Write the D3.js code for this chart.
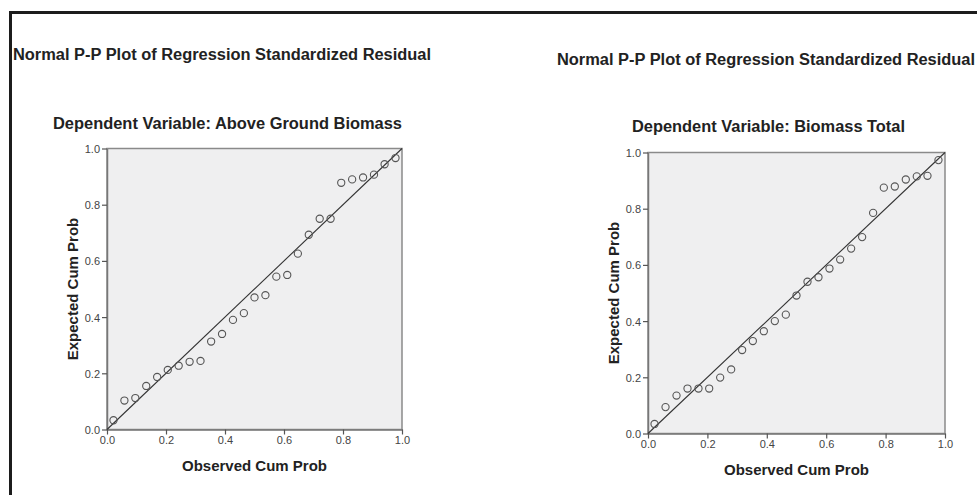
<!DOCTYPE html>
<html>
<head>
<meta charset="utf-8">
<script src="https://cdn.jsdelivr.net/npm/d3@7"></script>
<style>
  body { margin: 0; background: #fff; }
  svg text { font-family: "Liberation Sans", Arial, sans-serif; }
</style>
</head>
<body>
<div id="chart"></div>
<script>
// observed cumulative probabilities (same 27 cases in both panels)
const observedCumProb = [0.022, 0.059, 0.096, 0.133, 0.170, 0.206, 0.243, 0.280, 0.317,
  0.353, 0.390, 0.427, 0.464, 0.500, 0.537, 0.574, 0.611, 0.647, 0.684, 0.721, 0.758,
  0.794, 0.831, 0.868, 0.905, 0.941, 0.978];

// expected cumulative probabilities
const expectedAboveGround = [0.033, 0.103, 0.112, 0.155, 0.187, 0.212, 0.227, 0.241, 0.244,
  0.313, 0.340, 0.390, 0.414, 0.470, 0.478, 0.544, 0.550, 0.626, 0.693, 0.750, 0.750,
  0.878, 0.890, 0.897, 0.907, 0.944, 0.966];

const expectedTotal = [0.034, 0.094, 0.135, 0.160, 0.160, 0.160, 0.199, 0.228, 0.297,
  0.329, 0.364, 0.400, 0.423, 0.491, 0.540, 0.556, 0.587, 0.619, 0.658, 0.699, 0.785,
  0.875, 0.879, 0.904, 0.915, 0.917, 0.973];

const tickValues = [0, 0.2, 0.4, 0.6, 0.8, 1.0];
const mainTitle = "Normal P-P Plot of Regression Standardized Residual";
const subTitles = ["Dependent Variable: Above Ground Biomass", "Dependent Variable: Biomass Total"];
const xTitle = "Observed Cum Prob";
const yTitle = "Expected Cum Prob";

const svg = d3.select("#chart")
  .append("svg")
  .attr("width", 977)
  .attr("height", 495);

// outer frame (only left and top edges are in the picture)
svg.append("path")
  .attr("d", "M10.5,495 L10.5,12.5 L977,12.5")
  .attr("fill", "none")
  .attr("stroke", "#1c1c1c")
  .attr("stroke-width", 3);

class PPPlot {
  constructor(_config, _obs, _exp) {
    this.config = _config;
    this.obs = _obs;
    this.exp = _exp;
    this.initVis();
  }

  initVis() {
    let vis = this;
    const c = vis.config;

    vis.xScale = d3.scaleLinear().domain([0, 1]).range([c.left, c.right]);
    vis.yScale = d3.scaleLinear().domain([0, 1]).range([c.bottom, c.top]);

    vis.g = svg.append("g");

    // titles
    vis.g.append("text")
      .attr("x", c.titleX)
      .attr("y", c.titleY)
      .attr("font-size", 16)
      .attr("font-weight", "bold")
      .attr("fill", "#222")
      .attr("textLength", 418)
      .attr("lengthAdjust", "spacingAndGlyphs")
      .text(mainTitle);

    vis.g.append("text")
      .attr("x", c.subX)
      .attr("y", c.subY)
      .attr("font-size", 16)
      .attr("font-weight", "bold")
      .attr("fill", "#222")
      .attr("textLength", c.subLen)
      .attr("lengthAdjust", "spacingAndGlyphs")
      .text(c.subTitle);

    // plot area
    vis.g.append("rect")
      .attr("x", c.left)
      .attr("y", c.top)
      .attr("width", c.right - c.left)
      .attr("height", c.bottom - c.top)
      .attr("fill", "#efeff0")
      .attr("stroke", "#8a8a8a")
      .attr("stroke-width", 1.5);

    vis.renderVis();
  }

  renderVis() {
    let vis = this;
    const c = vis.config;

    const xAxis = d3.axisBottom(vis.xScale)
      .tickValues(tickValues)
      .tickFormat(d3.format(".1f"))
      .tickSize(5)
      .tickSizeOuter(0);
    const yAxis = d3.axisLeft(vis.yScale)
      .tickValues(tickValues)
      .tickFormat(d3.format(".1f"))
      .tickSize(5)
      .tickSizeOuter(0);

    const gx = vis.g.append("g")
      .attr("transform", `translate(0,${c.bottom})`)
      .call(xAxis);
    const gy = vis.g.append("g")
      .attr("transform", `translate(${c.left},0)`)
      .call(yAxis);

    [gx, gy].forEach((ax) => {
      ax.select(".domain").attr("stroke", "#777").attr("stroke-width", 1.5);
      ax.selectAll(".tick line").attr("stroke", "#555").attr("stroke-width", 1.2);
      ax.selectAll(".tick text")
        .attr("font-family", "'Liberation Sans', Arial, sans-serif")
        .attr("font-size", 11)
        .attr("fill", "#444");
    });
    gx.selectAll(".tick text").attr("dy", "0.55em").attr("y", 8);
    gy.selectAll(".tick text").attr("x", -7).attr("dy", "0.36em");

    // axis titles
    vis.g.append("text")
      .attr("x", (c.left + c.right) / 2)
      .attr("y", c.bottom + 41)
      .attr("text-anchor", "middle")
      .attr("font-size", 15)
      .attr("font-weight", "bold")
      .attr("fill", "#222")
      .text(xTitle);

    vis.g.append("text")
      .attr("transform", `translate(${c.left - 29},${(c.top + c.bottom) / 2}) rotate(-90)`)
      .attr("text-anchor", "middle")
      .attr("font-size", 15)
      .attr("font-weight", "bold")
      .attr("fill", "#222")
      .text(yTitle);

    // reference diagonal
    vis.g.append("line")
      .attr("x1", vis.xScale(0))
      .attr("y1", vis.yScale(0))
      .attr("x2", vis.xScale(1))
      .attr("y2", vis.yScale(1))
      .attr("stroke", "#333")
      .attr("stroke-width", 1.1);

    // points
    vis.g.append("g")
      .selectAll("circle")
      .data(vis.obs.map((d, i) => ({ x: d, y: vis.exp[i] })))
      .join("circle")
      .attr("cx", (d) => vis.xScale(d.x))
      .attr("cy", (d) => vis.yScale(d.y))
      .attr("r", 3.6)
      .attr("fill", "none")
      .attr("stroke", "#555")
      .attr("stroke-width", 1.1);
  }
}

new PPPlot({
  left: 107, right: 402, top: 148.5, bottom: 429.5,
  titleX: 13, titleY: 60,
  subX: 53, subY: 129, subLen: 349,
  subTitle: subTitles[0]
}, observedCumProb, expectedAboveGround);

new PPPlot({
  left: 648, right: 945, top: 152.5, bottom: 433.5,
  titleX: 557, titleY: 65,
  subX: 632, subY: 132, subLen: 273,
  subTitle: subTitles[1]
}, observedCumProb, expectedTotal);
</script>
</body>
</html>
